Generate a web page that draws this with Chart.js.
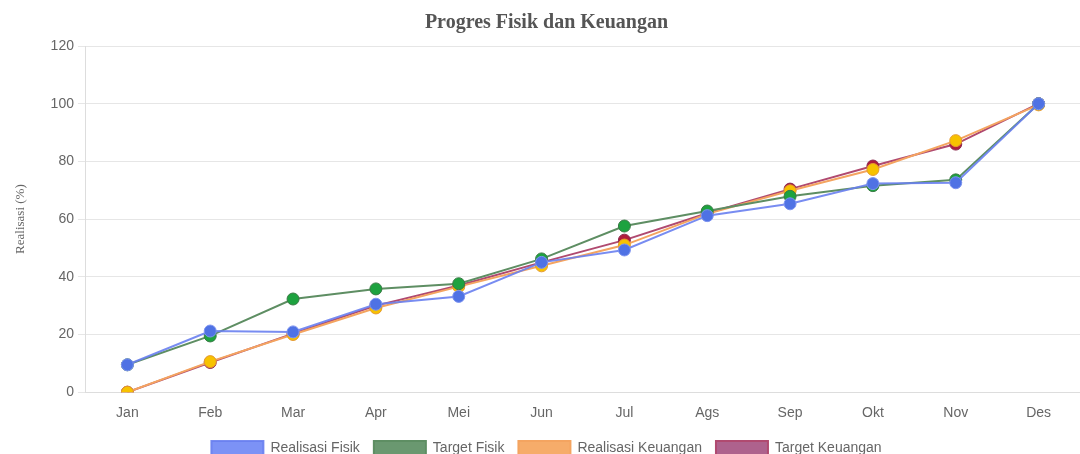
<!DOCTYPE html>
<html>
<head>
<meta charset="utf-8">
<script src="https://cdn.jsdelivr.net/npm/chart.js@4"></script>
<style>
  html, body { margin: 0; padding: 0; background: #fff; overflow: hidden; }
  #wrap { width: 1080px; height: 465px; }
</style>
</head>
<body>
<div id="wrap"><canvas id="progresChart"></canvas></div>
<script>
const months = ['Jan', 'Feb', 'Mar', 'Apr', 'Mei', 'Jun', 'Jul', 'Ags', 'Sep', 'Okt', 'Nov', 'Des'];
const realisasiFisik = [9.5, 21.2, 20.9, 30.5, 33.2, 45, 49.3, 61.2, 65.3, 72.3, 72.6, 100];
const targetFisik = [9.5, 19.5, 32.3, 35.8, 37.6, 46.2, 57.6, 62.8, 67.9, 71.6, 73.6, 100];
const realisasiKeuangan = [0, 10.6, 20, 29.2, 36.6, 43.8, 51, 61.8, 69.8, 77.2, 87.2, 99.6];
const targetKeuangan = [0, 10.3, 20.3, 30, 37, 45, 52.7, 62, 70.4, 78.4, 86, 100];

const ctx = document.getElementById('progresChart').getContext('2d');
new Chart(ctx, {
  type: 'line',
  data: {
    labels: months,
    datasets: [
      {
        label: 'Realisasi Fisik',
        data: realisasiFisik,
        backgroundColor: 'rgba(110, 134, 245, 0.9)',
        borderColor: 'rgba(105, 128, 240, 0.9)',
        borderWidth: 2,
        pointBackgroundColor: '#4f72e4',
        pointBorderColor: '#7d93f0',
        pointRadius: 6,
        pointBorderWidth: 1,
        fill: false,
        tension: 0,
      },
      {
        label: 'Target Fisik',
        data: targetFisik,
        backgroundColor: 'rgba(98, 146, 104, 0.95)',
        borderColor: '#5e8e63',
        borderWidth: 2,
        pointBackgroundColor: '#1da23f',
        pointBorderColor: '#3a7a45',
        pointRadius: 6,
        pointBorderWidth: 1,
        fill: false,
        tension: 0,
      },
      {
        label: 'Realisasi Keuangan',
        data: realisasiKeuangan,
        backgroundColor: 'rgba(246, 168, 98, 0.95)',
        borderColor: '#f4a460',
        borderWidth: 2,
        pointBackgroundColor: '#f7c200',
        pointBorderColor: '#e59a30',
        pointRadius: 6,
        pointBorderWidth: 1,
        fill: false,
        tension: 0,
      },
      {
        label: 'Target Keuangan',
        data: targetKeuangan,
        backgroundColor: 'rgba(170, 90, 135, 0.95)',
        borderColor: '#b04a70',
        borderWidth: 2,
        pointBackgroundColor: '#b01c3c',
        pointBorderColor: '#8a2a4e',
        pointRadius: 6,
        pointBorderWidth: 1,
        fill: false,
        tension: 0,
      },
    ],
  },
  options: {
    responsive: true,
    maintainAspectRatio: false,
    animation: false,
    layout: { autoPadding: false, padding: { left: 13, right: 0, top: 0, bottom: 0 } },
    plugins: {
      title: {
        display: true,
        text: 'Progres Fisik dan Keuangan',
        color: '#555',
        font: { family: 'Liberation Serif', size: 20, weight: 'bold' },
        padding: { top: 11, bottom: 11 },
      },
      legend: {
        position: 'bottom',
        labels: {
          color: '#666',
          font: { family: 'Liberation Sans', size: 14 },
          boxWidth: 52,
          boxHeight: 14,
          padding: 14,
        },
      },
      tooltip: { enabled: false },
    },
    scales: {
      x: {
        offset: true,
        grid: { display: false, tickLength: 8 },
        border: { color: '#ddd' },
        ticks: {
          color: '#666',
          font: { family: 'Liberation Sans', size: 14 },
          padding: 5,
        },
      },
      y: {
        min: 0,
        max: 120,
        ticks: {
          stepSize: 20,
          color: '#666',
          font: { family: 'Liberation Sans', size: 14 },
          padding: 4,
        },
        grid: { color: '#e6e6e6', tickLength: 8 },
        border: { color: '#ddd' },
        title: {
          display: true,
          text: 'Realisasi (%)',
          color: '#666',
          font: { family: 'Liberation Serif', size: 13 },
          padding: { top: 0, bottom: 18 },
        },
      },
    },
  },
});
</script>
</body>
</html>
